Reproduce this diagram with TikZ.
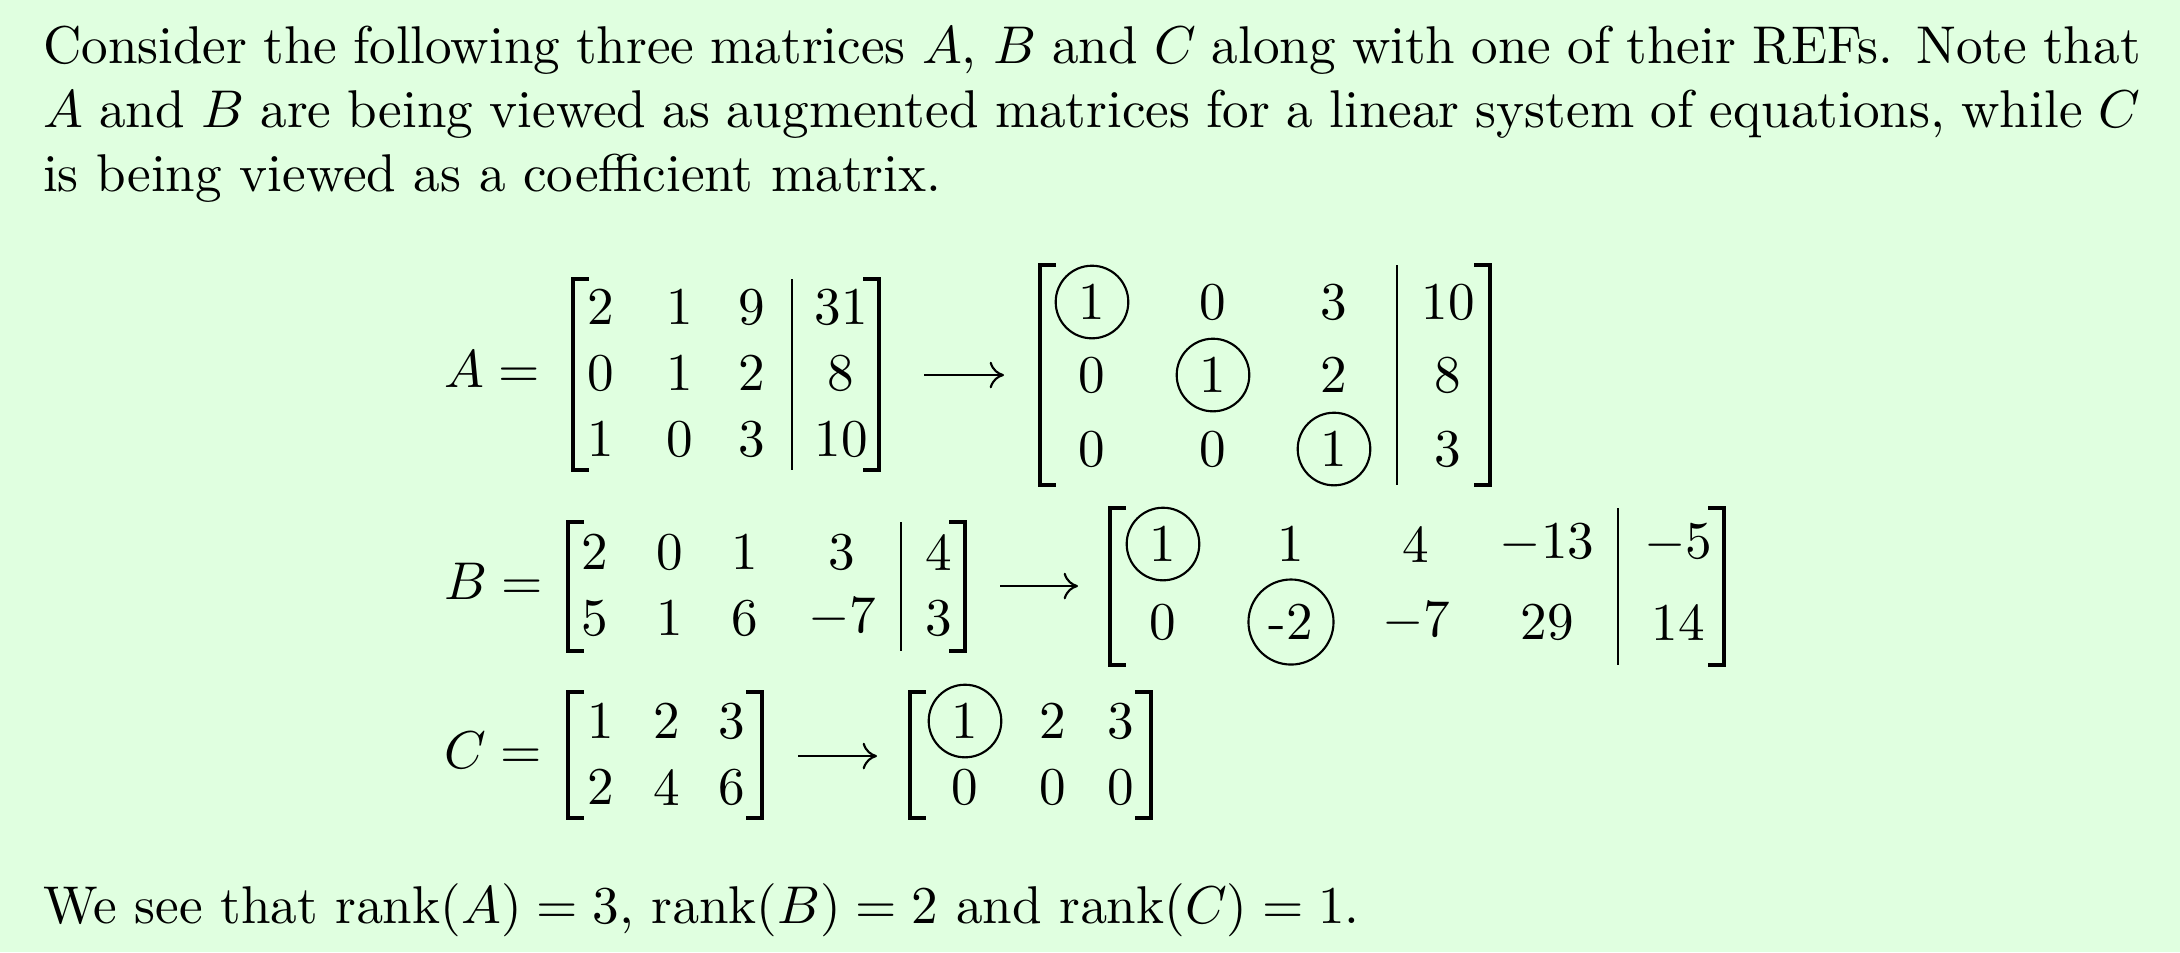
\documentclass[tikz,border=0pt]{standalone}
\usepackage{tikz}
\usetikzlibrary{arrows.meta}

\definecolor{boxgreen}{rgb}{0.88,1,0.88}

\tikzset{
  pivot/.style={circle,draw,inner sep=1.9pt},
  brak/.style={line width=0.7pt},
  augbar/.style={line width=0.4pt},
  reduce/.style={-{Computer Modern Rightarrow[length=2.7pt,width=5pt]},line width=0.4pt}
}

\begin{document}
\begin{tikzpicture}[x=0.18815pt,y=-0.18815pt]
\fill[boxgreen] (0,0) rectangle (2180,952);
\useasboundingbox (0,0) rectangle (2180,952);
% text above
\node[anchor=north west,inner sep=0pt,text width=394.7pt,align=justify] (intro) at (42,25)
  {Consider the following three matrices $A$, $B$ and $C$ along with one of their REFs. Note that\linebreak
   $A$ and $B$ are being viewed as augmented matrices for a linear system of equations, while $C$\linebreak
   is being viewed as a coefficient matrix.};
% matrix A
\node[anchor=west,inner sep=0pt] (Alabel) at (443,369) {$A=$};
\draw[brak] (589,279) -- (573,279) -- (573,470) -- (589,470);
\draw[brak] (863,279) -- (879,279) -- (879,470) -- (863,470);
\draw[augbar] (792,279) -- (792,470);
\node (a11) at (601,307) {2};
\node (a12) at (680,307) {1};
\node (a13) at (752,307) {9};
\node (a14) at (841,307) {31};
\node (a21) at (601,373) {0};
\node (a22) at (680,373) {1};
\node (a23) at (752,373) {2};
\node (a24) at (841,373) {8};
\node (a31) at (601,439) {1};
\node (a32) at (680,439) {0};
\node (a33) at (752,439) {3};
\node (a34) at (841,439) {10};
\coordinate (Aout) at (924,375);
\coordinate (Ain) at (1004,375);
\draw[reduce] (Aout) -- (Ain);
% REF of A
\draw[brak] (1056,265) -- (1040,265) -- (1040,485) -- (1056,485);
\draw[brak] (1474,265) -- (1490,265) -- (1490,485) -- (1474,485);
\draw[augbar] (1397,265) -- (1397,485);
\node[pivot] (ra11) at (1092,302) {1};
\node (ra12) at (1213,302) {0};
\node (ra13) at (1334,302) {3};
\node (ra14) at (1448,302) {10};
\node (ra21) at (1092,375) {0};
\node[pivot] (ra22) at (1213,375) {1};
\node (ra23) at (1334,375) {2};
\node (ra24) at (1448,375) {8};
\node (ra31) at (1092,449) {0};
\node (ra32) at (1213,449) {0};
\node[pivot] (ra33) at (1334,449) {1};
\node (ra34) at (1448,449) {3};
% matrix B
\node[anchor=west,inner sep=0pt] (Blabel) at (443,581) {$B=$};
\draw[brak] (584,522) -- (568,522) -- (568,651) -- (584,651);
\draw[brak] (949,522) -- (965,522) -- (965,651) -- (949,651);
\draw[augbar] (901,522) -- (901,651);
\node (b11) at (595,552) {2};
\node (b12) at (670,552) {0};
\node (b13) at (745,552) {1};
\node (b14) at (842,552) {3};
\node (b15) at (939,552) {4};
\node (b21) at (595,618) {5};
\node (b22) at (670,618) {1};
\node (b23) at (745,618) {6};
\node (b24) at (842,618) {$-7$};
\node (b25) at (939,618) {3};
\coordinate (Bout) at (1000,586);
\coordinate (Bin) at (1078,586);
\draw[reduce] (Bout) -- (Bin);
% REF of B
\draw[brak] (1126,508) -- (1110,508) -- (1110,665) -- (1126,665);
\draw[brak] (1708,508) -- (1724,508) -- (1724,665) -- (1708,665);
\draw[augbar] (1618,508) -- (1618,665);
\node[pivot] (rb11) at (1163,544) {1};
\node (rb12) at (1291,544) {1};
\node (rb13) at (1416,544) {4};
\node (rb14) at (1547,544) {$-13$};
\node (rb15) at (1678,544) {$-5$};
\node (rb21) at (1163,622) {0};
\node[pivot] (rb22) at (1291,622) {-2};
\node (rb23) at (1416,622) {$-7$};
\node (rb24) at (1547,622) {29};
\node (rb25) at (1678,622) {14};
% matrix C
\node[anchor=west,inner sep=0pt] (Clabel) at (443,750) {$C=$};
\draw[brak] (584,692) -- (568,692) -- (568,818) -- (584,818);
\draw[brak] (746,692) -- (762,692) -- (762,818) -- (746,818);
\node (c11) at (601,721) {1};
\node (c12) at (667,721) {2};
\node (c13) at (732,721) {3};
\node (c21) at (601,787) {2};
\node (c22) at (667,787) {4};
\node (c23) at (732,787) {6};
\coordinate (Cout) at (798,756);
\coordinate (Cin) at (877,756);
\draw[reduce] (Cout) -- (Cin);
% REF of C
\draw[brak] (926,692) -- (910,692) -- (910,818) -- (926,818);
\draw[brak] (1135,692) -- (1151,692) -- (1151,818) -- (1135,818);
\node[pivot] (rc11) at (965,721) {1};
\node (rc12) at (1053,721) {2};
\node (rc13) at (1121,721) {3};
\node (rc21) at (965,787) {0};
\node (rc22) at (1053,787) {0};
\node (rc23) at (1121,787) {0};
% text below
\node[anchor=base west,inner sep=0pt] (ranks) at (42,923)
  {We see that $\mathrm{rank}(A)=3$, $\mathrm{rank}(B)=2$ and $\mathrm{rank}(C)=1$.};
\end{tikzpicture}
\end{document}
